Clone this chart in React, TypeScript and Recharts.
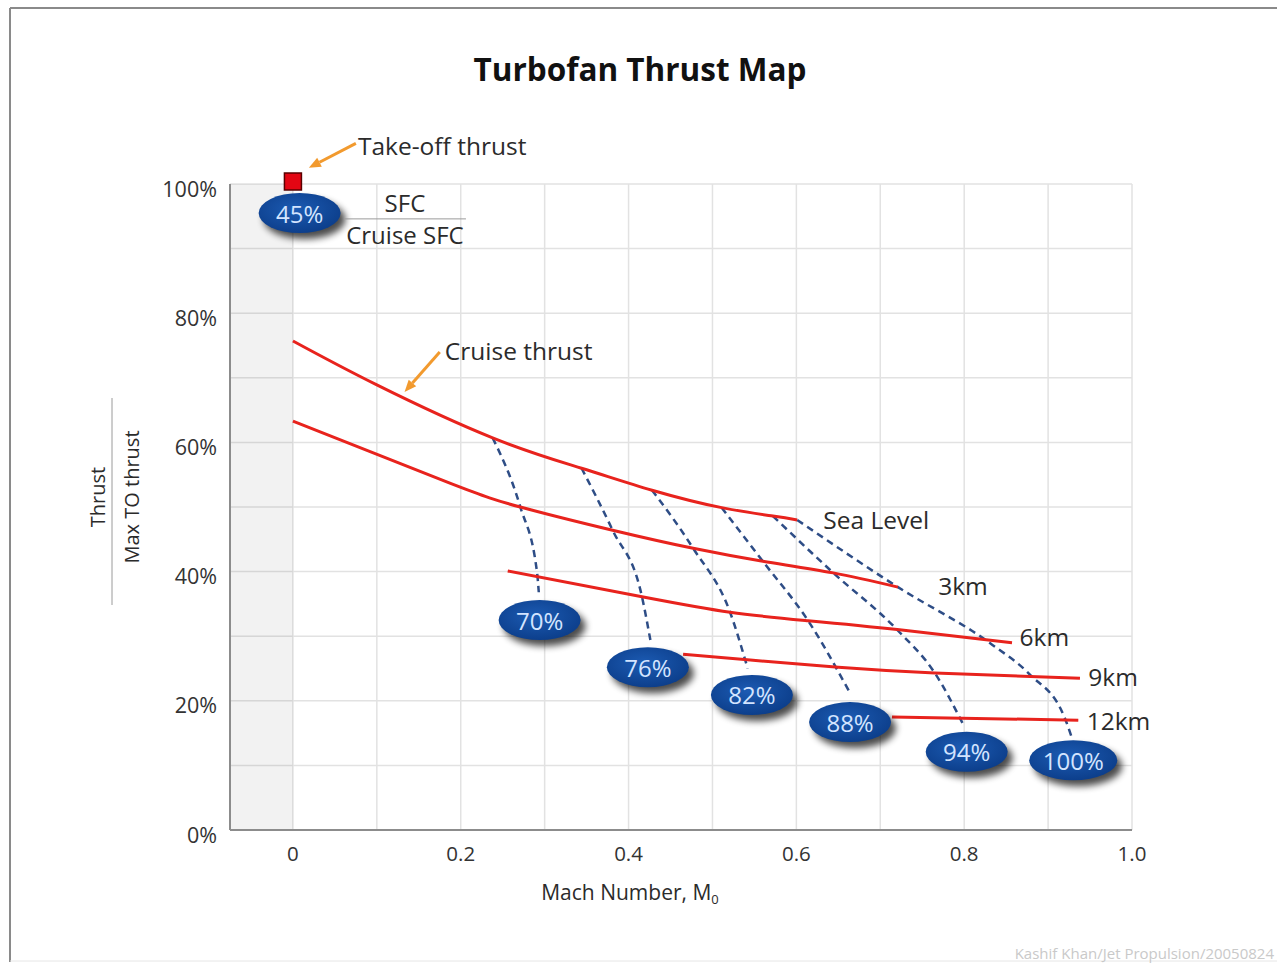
import React from 'react'
import {
  ComposedChart,
  Line,
  Scatter,
  XAxis,
  YAxis,
  CartesianGrid,
  ReferenceArea,
  ReferenceLine,
  ReferenceDot,
} from 'recharts'

type Pt = [number, number] // [mach, thrust %]

// cruise thrust lines, one per altitude
const seaLevel: Pt[] = [[0, 75.7], [0.1, 68.9], [0.238, 60.7], [0.344, 56.0], [0.428, 52.6], [0.511, 49.9], [0.572, 48.6], [0.601, 48.0]]
const threeKm: Pt[] = [[0, 63.3], [0.187, 53.7], [0.271, 50.0], [0.381, 46.4], [0.477, 43.6], [0.56, 41.6], [0.644, 39.8], [0.721, 37.6]]
const sixKm: Pt[] = [[0.256, 40.1], [0.416, 36.1], [0.521, 33.7], [0.614, 32.4], [0.723, 31.0], [0.857, 29.0]]
const nineKm: Pt[] = [[0.465, 27.2], [0.545, 26.3], [0.65, 25.2], [0.765, 24.3], [0.938, 23.5]]
const twelveKm: Pt[] = [[0.714, 17.5], [0.936, 17.0]]

const altitudes = [seaLevel, threeKm, sixKm, nineKm, twelveKm]
const altitudeNames = ['Sea Level', '3km', '6km', '9km', '12km']
const altitudeLabelAt: Pt[] = [[0.632, 48.1], [0.769, 37.9], [0.866, 30.0], [0.948, 23.7], [0.946, 16.9]]

// constant SFC / cruise SFC contours
const sfc70: Pt[] = [[0.238, 60.7], [0.271, 50.0], [0.291, 39.8], [0.293, 36.8]]
const sfc76: Pt[] = [[0.344, 56.0], [0.381, 46.4], [0.416, 36.1], [0.426, 29.4]]
const sfc82: Pt[] = [[0.428, 52.6], [0.477, 43.6], [0.521, 33.7], [0.542, 25.0]]
const sfc88: Pt[] = [[0.511, 49.9], [0.56, 41.6], [0.614, 32.4], [0.664, 21.2]]
const sfc94: Pt[] = [[0.572, 48.6], [0.644, 39.8], [0.72, 31.0], [0.765, 24.3], [0.799, 16.3]]
const sfc100: Pt[] = [[0.601, 48.0], [0.721, 37.6], [0.831, 28.9], [0.878, 24.1], [0.92, 17.3], [0.928, 14.4]]
const sfcLines = [sfc70, sfc76, sfc82, sfc88, sfc94, sfc100]

// SFC ratio bubbles
const sfcLabels = ['45%', '70%', '76%', '82%', '88%', '94%', '100%']
const sfcMach = [0.008, 0.294, 0.423, 0.547, 0.664, 0.803, 0.93]
const sfcThrust = [95.5, 32.5, 25.2, 20.9, 16.7, 12.1, 10.8]

const takeOff: Pt[] = [[0, 100]]

const machTicks = [0, 0.2, 0.4, 0.6, 0.8, 1.0]
const thrustTicks = [0, 20, 40, 60, 80, 100]
const machGrid = [0, 0.1, 0.2, 0.3, 0.4, 0.5, 0.6, 0.7, 0.8, 0.9, 1.0]
const thrustGrid = [10, 20, 30, 40, 50, 60, 70, 80, 90, 100]

// arrows: [from, to]
const takeOffArrow: Pt[] = [[0.075, 106.3], [0.019, 102.5]]
const cruiseArrow: Pt[] = [[0.175, 74.0], [0.133, 67.8]]
const takeOffTextAt: Pt = [0.0775, 106.0]
const cruiseTextAt: Pt = [0.181, 74.3]
const sfcFractionAt: Pt = [0.1335, 94.6]

const toRows = (pts: Pt[]) => pts.map(([mach, thrust]) => ({ mach, thrust }))
const bubbles = sfcLabels.map((label, i) => ({ label, mach: sfcMach[i], thrust: sfcThrust[i] }))

const FONT = "'Open Sans', sans-serif"
const RED = '#e8231d'
const DASH = '#2e4d86'
const ORANGE = '#f29a2e'
const NOTE_SIZE = 24.5

function Bubble(props: any) {
  const { cx, cy, payload } = props
  const label: string = payload.label
  const rx = label.length > 3 ? 44 : 41
  const ry = 20
  const id = 'bub' + label.replace('%', '')
  return (
    <g>
      <defs>
        <radialGradient id={id + 'g'} cx="45%" cy="40%" r="70%">
          <stop offset="0%" stopColor="#1c5bb3" />
          <stop offset="100%" stopColor="#0a3a85" />
        </radialGradient>
        <filter id={id + 'f'} x="-40%" y="-60%" width="180%" height="220%">
          <feGaussianBlur stdDeviation="3.5" />
        </filter>
      </defs>
      <ellipse cx={cx + 5} cy={cy + 6} rx={rx} ry={ry} fill="#000" opacity={0.7} filter={`url(#${id}f)`} />
      <ellipse cx={cx} cy={cy} rx={rx} ry={ry} fill={`url(#${id}g)`} />
      <text x={cx} y={cy} textAnchor="middle" dominantBaseline="central" fontFamily={FONT} fontSize={24} fill="#d3e4ff">
        {label}
      </text>
    </g>
  )
}

function RedSquare(props: any) {
  const { cx, cy } = props
  return <rect x={cx - 8.5} y={cy - 11} width={17} height={17} fill="#e30613" stroke="#5a0000" strokeWidth={1.5} />
}

function Arrow(props: any) {
  const { x1, y1, x2, y2 } = props
  const a = Math.atan2(y2 - y1, x2 - x1)
  const L = 12
  const W = 5
  const bx = x2 - L * Math.cos(a)
  const by = y2 - L * Math.sin(a)
  const px = -Math.sin(a) * W
  const py = Math.cos(a) * W
  return (
    <g>
      <line x1={x1} y1={y1} x2={bx} y2={by} stroke={ORANGE} strokeWidth={3} />
      <polygon points={`${x2},${y2} ${bx + px},${by + py} ${bx - px},${by - py}`} fill={ORANGE} />
    </g>
  )
}

const note = (text: string) => (p: any) => (
  <text x={p.cx} y={p.cy} dominantBaseline="central" fontFamily={FONT} fontSize={NOTE_SIZE} fill="#2b2b2b">
    {text}
  </text>
)

function SfcFraction(p: any) {
  const { cx, cy } = p
  return (
    <g fontFamily={FONT} fontSize={24} fill="#2b2b2b">
      <text x={cx} y={cy - 16} textAnchor="middle" dominantBaseline="central">SFC</text>
      <line x1={cx - 61} y1={cy} x2={cx + 61} y2={cy} stroke="#9a9a9a" strokeWidth={1} />
      <text x={cx} y={cy + 16} textAnchor="middle" dominantBaseline="central">Cruise SFC</text>
    </g>
  )
}

function XTick(p: any) {
  const v = p.payload.value as number
  return (
    <text x={p.x} y={p.y + 23} textAnchor="middle" dominantBaseline="central" fontFamily={FONT} fontSize={20.5} fill="#333">
      {v === 0 ? '0' : v.toFixed(1)}
    </text>
  )
}

function YTick(p: any) {
  return (
    <text x={p.x} y={p.y + 4} textAnchor="end" dominantBaseline="central" fontFamily={FONT} fontSize={21.5} fill="#333">
      {p.payload.value}%
    </text>
  )
}

export default function App() {
  return (
    <div style={{ position: 'absolute', left: 0, top: 0, width: 1277, height: 964, background: '#fff', fontFamily: FONT }}>
      <ComposedChart width={1277} height={964} margin={{ top: 184, right: 145, bottom: 104, left: 160 }}>
        <CartesianGrid horizontalValues={thrustGrid} verticalValues={machGrid} stroke="#e2e2e2" strokeWidth={1.5} />
        <ReferenceArea x1={-0.075} x2={0} y1={0} y2={100} fill="#000" fillOpacity={0.05} stroke="none" />
        <XAxis
          dataKey="mach"
          type="number"
          domain={[-0.075, 1]}
          ticks={machTicks}
          height={30}
          axisLine={{ stroke: '#8c8c8c', strokeWidth: 2 }}
          tickLine={false}
          tickSize={0}
          tickMargin={0}
          tick={XTick}
        />
        <YAxis
          dataKey="thrust"
          type="number"
          domain={[0, 100]}
          ticks={thrustTicks}
          width={70}
          axisLine={{ stroke: '#8c8c8c', strokeWidth: 2 }}
          tickLine={false}
          tickSize={0}
          tickMargin={13}
          tick={YTick}
        />
        {sfcLines.map((pts, i) => (
          <Line
            key={'sfc' + i}
            data={toRows(pts)}
            dataKey="thrust"
            type="monotone"
            stroke={DASH}
            strokeWidth={2.5}
            strokeDasharray="7 5"
            dot={false}
            activeDot={false}
            isAnimationActive={false}
          />
        ))}
        {altitudes.map((pts, i) => (
          <Line
            key={altitudeNames[i]}
            name={altitudeNames[i]}
            data={toRows(pts)}
            dataKey="thrust"
            type="natural"
            stroke={RED}
            strokeWidth={3}
            dot={false}
            activeDot={false}
            isAnimationActive={false}
          />
        ))}
        <Scatter data={toRows(takeOff)} dataKey="thrust" shape={RedSquare} isAnimationActive={false} />
        <Scatter data={bubbles} dataKey="thrust" shape={Bubble} isAnimationActive={false} />
        {altitudeNames.map((name, i) => (
          <ReferenceDot key={'lbl' + name} x={altitudeLabelAt[i][0]} y={altitudeLabelAt[i][1]} ifOverflow="visible" shape={note(name)} />
        ))}
        <ReferenceLine
          segment={takeOffArrow.map(([x, y]) => ({ x, y }))}
          ifOverflow="visible"
          shape={Arrow}
        />
        <ReferenceLine
          segment={cruiseArrow.map(([x, y]) => ({ x, y }))}
          ifOverflow="visible"
          shape={Arrow}
        />
        <ReferenceDot x={takeOffTextAt[0]} y={takeOffTextAt[1]} ifOverflow="visible" shape={note('Take-off thrust')} />
        <ReferenceDot x={cruiseTextAt[0]} y={cruiseTextAt[1]} ifOverflow="visible" shape={note('Cruise thrust')} />
        <ReferenceDot x={sfcFractionAt[0]} y={sfcFractionAt[1]} ifOverflow="visible" shape={SfcFraction} />
      </ComposedChart>

      <svg width={1277} height={964} style={{ position: 'absolute', left: 0, top: 0, pointerEvents: 'none' }}>
        <line x1={10} y1={8} x2={1277} y2={8} stroke="#8a8a8a" strokeWidth={2} />
        <line x1={10} y1={8} x2={10} y2={962} stroke="#8a8a8a" strokeWidth={2} />
        <line x1={10} y1={961} x2={1277} y2={961} stroke="#e6e6e6" strokeWidth={1} />
        <text x={640} y={68} textAnchor="middle" dominantBaseline="central" fontFamily={FONT} fontWeight={700} fontSize={31.5} fill="#111">
          Turbofan Thrust Map
        </text>
        <text x={630} y={892} textAnchor="middle" dominantBaseline="central" fontFamily={FONT} fontSize={21} fill="#2b2b2b">
          Mach Number, M<tspan fontSize={13} dy={7}>0</tspan>
        </text>
        <text transform="translate(97,497) rotate(-90)" textAnchor="middle" dominantBaseline="central" fontFamily={FONT} fontSize={20} fill="#2b2b2b">
          Thrust
        </text>
        <line x1={112} y1={398} x2={112} y2={605} stroke="#9a9a9a" strokeWidth={1} />
        <text transform="translate(131,497) rotate(-90)" textAnchor="middle" dominantBaseline="central" fontFamily={FONT} fontSize={20} fill="#2b2b2b">
          Max TO thrust
        </text>
        <text x={1274} y={953} textAnchor="end" dominantBaseline="central" fontFamily={FONT} fontSize={15} fill="#c9c9c9">
          Kashif Khan/Jet Propulsion/20050824
        </text>
      </svg>
    </div>
  )
}
